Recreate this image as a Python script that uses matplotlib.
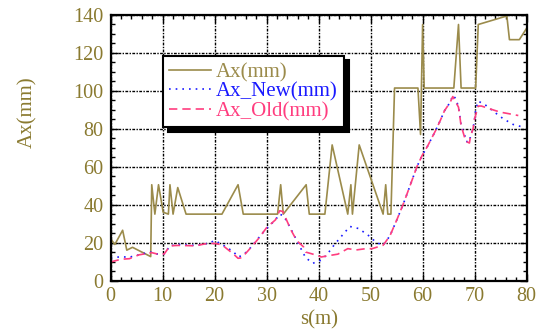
import matplotlib
matplotlib.use("Agg")
import matplotlib.pyplot as plt
from matplotlib.ticker import MultipleLocator

# Ax(mm) trace
s_ax = [0, 0.8, 2.3, 3.1, 4.2, 7.7, 7.9, 8.5, 9.2, 10.1, 11.1, 11.4, 12.0, 12.9,
        14.5, 21.4, 24.5, 25.5, 32.1, 32.7, 33.2, 37.6, 38.2, 41.2, 42.6, 45.6,
        46.2, 46.5, 47.8, 52.4, 52.9, 53.3, 53.9, 54.6, 59.1, 59.6, 60.0, 60.3,
        66.0, 66.9, 67.4, 70.2, 70.7, 76.2, 76.7, 78.6, 80.0]
ax_mm = [22, 19, 26.5, 16, 17.5, 12.6, 50.5, 35, 50.5, 36, 35, 50.5, 35, 49,
         35, 35, 50.5, 35, 35, 50.5, 35, 50.5, 35, 35, 71.5, 35,
         50.5, 35, 71.5, 35, 50.5, 35, 35, 101.5, 101.5, 77, 135, 101.5,
         101.5, 135, 101.5, 101.5, 135, 139.5, 127, 127, 133]

# Ax_New(mm)
s_new = [0, 2, 3.6, 5.4, 6.9, 8.0, 8.9, 10.3, 11.4, 13, 16.3, 18.5, 20.1, 21.4,
         23.6, 24.5, 25.2, 26.4, 28.4, 30, 31.7, 32.5, 33.3, 34.7, 35.8, 37.5,
         38.9, 40.5, 41.7, 43.0, 44.5, 46.0, 47.7, 49.6, 51.1, 52.4, 53.7, 55.1,
         56.4, 57.7, 58.9, 59.9, 60.9, 62.5, 63.4, 64.2, 65.3, 65.8, 66.4, 66.9,
         67.2, 67.4, 68.1, 68.3, 69.0, 69.2, 69.7, 70.0, 70.2, 70.7, 72.2, 73.8,
         75.5, 77.4, 78.9]
ax_new = [12, 12.5, 12.3, 13.5, 14.6, 15, 14, 14, 18.3, 19, 18.5, 19.5, 21, 19,
          15.2, 12.5, 13, 15.6, 22.3, 27.5, 32, 35, 34, 27, 21, 12,
          9.1, 10.7, 14, 18.8, 23.7, 28.5, 27.4, 23.7, 20, 18.6, 23.5, 32.4,
          41.2, 50.9, 60, 65.9, 70.6, 79.1, 84.4, 89.5, 94, 97.6, 95.9, 91.4,
          86, 81.7, 76.5, 73.4, 73, 76, 80, 85.3, 90, 94.6, 92.3, 88.8,
          85.3, 82.3, 81.2]

# Ax_Old(mm)
s_old = [0, 2.0, 3.6, 5.4, 7.9, 8.9, 10.3, 11.4, 13, 16.3, 18.5, 20.1, 21.4,
         23.6, 24.5, 25.2, 26.4, 28.4, 30, 31.7, 32.5, 33.1, 34.7, 35.8, 37.1,
         37.5, 39.4, 40.5, 41.7, 43.7, 45.6, 47.2, 49.1, 50.3, 52.4, 53.7, 55.1,
         56.4, 57.7, 58.9, 59.9, 60.9, 62.5, 63.4, 64.2, 65.3, 65.8, 66.9, 67.4,
         68.3, 69.0, 69.2, 69.7, 70.0, 70.7, 71.3, 73.3, 74.9, 76.5, 78.4]
ax_old = [9.8, 11.2, 11.5, 13.5, 14.7, 14, 14, 18.3, 18.5, 18.3, 19.5, 19.5, 18.8,
          14, 11.7, 12, 15.6, 22, 27.9, 32, 36.8, 36.4, 26.5, 21, 17.7,
          15, 13.5, 12.4, 13, 13.9, 16.8, 16.1, 16.8, 16.8, 18.6, 23.5, 32.4,
          41.2, 50.9, 60, 65.9, 70.6, 79.1, 84.4, 89.5, 94, 97, 91.4, 81.7,
          73.4, 72.5, 76, 80, 85.3, 92, 92, 90.2, 88.8, 88, 87]

olive_text = "#8a7a30"
olive_line = "#9b8b4b"
blue = "#1a1aff"
pink = "#ff3d7f"

plt.rcParams["font.family"] = ["Liberation Serif", "DejaVu Serif"]

fig = plt.figure(figsize=(5.52, 3.30), dpi=100)
ax = fig.add_axes([0.2005, 0.15, 0.7535, 0.8045])

ax.plot(s_ax, ax_mm, color=olive_line, lw=1.2, label="Ax(mm)")
ax.plot(s_new, ax_new, color=blue, lw=1.2, linestyle=(0, (1, 3)), label="Ax_New(mm)")
ax.plot(s_old, ax_old, color=pink, lw=1.2, linestyle=(0, (5, 3)), label="Ax_Old(mm)")

ax.set_xlim(0, 80)
ax.set_ylim(0, 140)
ax.xaxis.set_major_locator(MultipleLocator(10))
ax.xaxis.set_minor_locator(MultipleLocator(2))
ax.yaxis.set_major_locator(MultipleLocator(20))
ax.yaxis.set_minor_locator(MultipleLocator(5))

ax.grid(True, which="major", color="black", lw=1.0, linestyle=(0, (2, 1, 1, 1)))
ax.tick_params(which="both", direction="in", top=True, right=True,
               labelsize=14.5, labelcolor=olive_text, colors="black")
ax.tick_params(which="major", length=5, width=1)
ax.tick_params(which="minor", length=3, width=1)
ax.tick_params(axis="x", pad=5)
ax.tick_params(axis="y", pad=5)
for sp in ax.spines.values():
    sp.set_linewidth(1.6)

ax.set_xlabel("s(m)", fontsize=15, color=olive_text, labelpad=3)
ax.set_ylabel("Ax(mm)", fontsize=15, color=olive_text)
ax.yaxis.set_label_coords(-0.176, 0.635)

leg = ax.legend(loc="upper left", bbox_to_anchor=(0.126, 0.845), borderaxespad=0,
                fontsize=15, labelcolor="linecolor", handlelength=2.0,
                labelspacing=0.0, borderpad=0.3, handletextpad=0.25,
                fancybox=False, framealpha=1,
                shadow={"color": "black", "alpha": 1, "ox": 3.5, "oy": -3})
leg.get_frame().set_edgecolor("black")
leg.get_frame().set_linewidth(1.5)

fig.savefig("out.png", dpi=100)
